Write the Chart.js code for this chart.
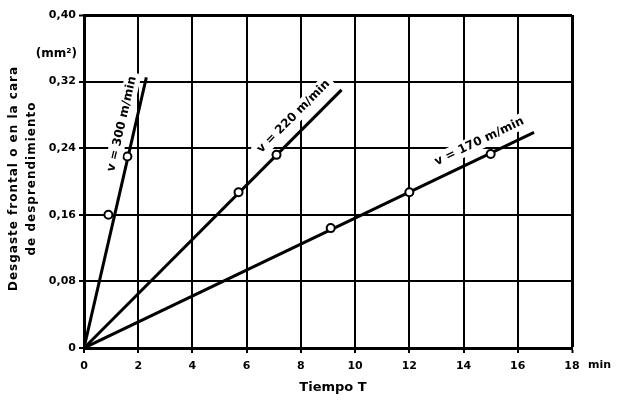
<!DOCTYPE html>
<html>
<head>
<meta charset="utf-8">
<script src="https://cdn.jsdelivr.net/npm/chart.js@4/dist/chart.umd.min.js"></script>
<style>
  html,body{margin:0;padding:0;background:#fff;}
  #wrap{width:617px;height:401px;}
</style>
</head>
<body>
<div id="wrap"><canvas id="c" width="617" height="401"></canvas></div>
<script>
// ---- data ----
const seriesNames = ['v = 300 m/min', 'v = 220 m/min', 'v = 170 m/min'];
const lineEndTime = [2.3, 9.5, 16.6];
const lineEndWear = [0.325, 0.31, 0.259];
const time300 = [0.9, 1.6];
const wear300 = [0.16, 0.23];
const time220 = [5.7, 7.1];
const wear220 = [0.187, 0.232];
const time170 = [9.1, 12.0, 15.0];
const wear170 = [0.144, 0.187, 0.233];
const xTicks = [0, 2, 4, 6, 8, 10, 12, 14, 16, 18];
const yTicks = [0, 0.08, 0.16, 0.24, 0.32, 0.40];
const xTitle = 'Tiempo T';
const yTitle = ['Desgaste frontal o en la cara', 'de desprendimiento'];
const yUnit = '(mm²)';
const xUnit = 'min';

const pointTimes = [time300, time220, time170];
const pointWears = [wear300, wear220, wear170];

const FONT = '"DejaVu Sans", sans-serif';

const datasets = [];
seriesNames.forEach((name, i) => {
  datasets.push({
    label: name,
    type: 'line',
    data: [{x: 0, y: 0}, {x: lineEndTime[i], y: lineEndWear[i]}],
    borderColor: '#000',
    borderWidth: 3,
    pointRadius: 0,
    fill: false,
    order: 2
  });
  datasets.push({
    label: name + ' (puntos)',
    type: 'scatter',
    data: pointTimes[i].map((t, k) => ({x: t, y: pointWears[i][k]})),
    backgroundColor: '#fff',
    borderColor: '#000',
    borderWidth: 2,
    pointRadius: 4,
    order: 1
  });
});

// label anchors (data units) for the rotated line labels
const labelAnchors = [{x: 1.40, y: 0.269}, {x: 7.73, y: 0.278}, {x: 14.58, y: 0.248}];

const extras = {
  id: 'extras',
  afterDatasetsDraw(chart) {
    const {ctx, scales: {x, y}} = chart;
    ctx.save();
    // rotated series labels
    ctx.font = 'bold 12px ' + FONT;
    ctx.textAlign = 'center';
    ctx.textBaseline = 'middle';
    seriesNames.forEach((name, i) => {
      const x0 = x.getPixelForValue(0), y0 = y.getPixelForValue(0);
      const x1 = x.getPixelForValue(lineEndTime[i]), y1 = y.getPixelForValue(lineEndWear[i]);
      const ang = Math.atan2(y1 - y0, x1 - x0);
      const cx = x.getPixelForValue(labelAnchors[i].x), cy = y.getPixelForValue(labelAnchors[i].y);
      ctx.save();
      ctx.translate(cx, cy);
      ctx.rotate(ang);
      const w = ctx.measureText(name).width;
      ctx.fillStyle = '#fff';
      ctx.fillRect(-w / 2 - 4, -8, w + 8, 16);
      ctx.fillStyle = '#000';
      ctx.fillText(name, 0, 0);
      ctx.restore();
    });
    // unit labels
    ctx.fillStyle = '#000';
    ctx.font = 'bold 12px ' + FONT;
    ctx.textAlign = 'right';
    ctx.textBaseline = 'middle';
    ctx.fillText(yUnit, 77, 54);
    ctx.font = 'bold 11px ' + FONT;
    ctx.textAlign = 'left';
    ctx.fillText(xUnit, 588, 365);
    // x title
    ctx.font = 'bold 13px ' + FONT;
    ctx.textAlign = 'center';
    ctx.fillText(xTitle, (x.left + x.right) / 2 + 5, 388);
    // y title (two rotated lines)
    ctx.save();
    try { ctx.letterSpacing = '1px'; } catch (e) {}
    ctx.font = 'bold 12px ' + FONT;
    const cy = (y.top + y.bottom) / 2 - 3;
    ctx.translate(14, cy);
    ctx.rotate(-Math.PI / 2);
    ctx.fillText(yTitle[0], 0, 0);
    ctx.fillText(yTitle[1], 0, 18);
    ctx.restore();
    ctx.restore();
  }
};

new Chart(document.getElementById('c'), {
  data: {datasets},
  options: {
    responsive: false,
    animation: false,
    devicePixelRatio: 1,
    layout: {padding: {top: 15, right: 45, left: 0, bottom: 0}},
    plugins: {legend: {display: false}, tooltip: {enabled: false}},
    scales: {
      x: {
        type: 'linear',
        min: 0, max: 18,
        afterBuildTicks: (axis) => { axis.ticks = xTicks.map(v => ({value: v})); },
        afterFit: (axis) => { axis.height = 53; },
        ticks: {
          color: '#000',
          font: {family: FONT, size: 11, weight: 'bold'},
          padding: 7,
          maxRotation: 0,
          callback: (v) => String(v)
        },
        grid: {
          color: '#000',
          lineWidth: (c) => (c.tick && c.tick.value === 18 ? 3 : 2),
          tickLength: 5,
          tickColor: '#000',
          tickWidth: 2
        },
        border: {color: '#000', width: 3},
        title: {display: false}
      },
      y: {
        type: 'linear',
        min: 0, max: 0.40,
        afterBuildTicks: (axis) => { axis.ticks = yTicks.map(v => ({value: v})); },
        afterFit: (axis) => { axis.width = 84; },
        ticks: {
          color: '#000',
          font: {family: FONT, size: 11, weight: 'bold'},
          padding: 3,
          callback: (v) => (v === 0 ? '0' : Number(v).toFixed(2).replace('.', ','))
        },
        grid: {
          color: '#000',
          lineWidth: (c) => (c.tick && Math.abs(c.tick.value - 0.40) < 1e-9 ? 3 : 2),
          tickLength: 5,
          tickColor: '#000',
          tickWidth: 2
        },
        border: {color: '#000', width: 3},
        title: {display: false}
      }
    }
  },
  plugins: [extras]
});
</script>
</body>
</html>
